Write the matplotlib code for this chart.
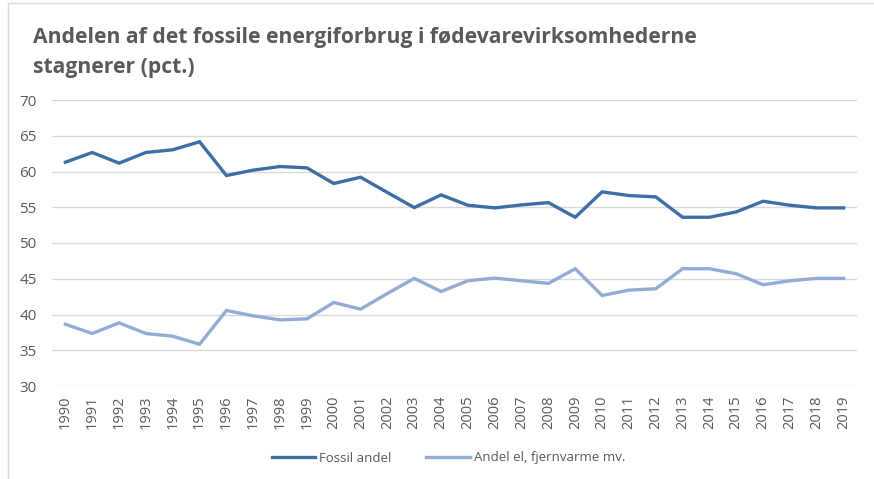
import matplotlib
matplotlib.use("Agg")
import matplotlib.pyplot as plt
from matplotlib.patches import Rectangle

years = list(range(1990, 2020))
fossil = [61.3, 62.66, 61.17, 62.66, 63.04, 64.16, 59.44, 60.19, 60.7, 60.51,
          58.32, 59.2, 57.06, 54.95, 56.73, 55.28, 54.91, 55.33, 55.65, 53.6,
          57.15, 56.64, 56.45, 53.6, 53.6, 54.35, 55.84, 55.28, 54.91, 54.91]
el = [38.64, 37.34, 38.83, 37.34, 36.96, 35.84, 40.56, 39.81, 39.25, 39.39,
      41.68, 40.75, 42.94, 45.05, 43.22, 44.72, 45.09, 44.72, 44.35, 46.4,
      42.66, 43.41, 43.6, 46.4, 46.4, 45.7, 44.16, 44.72, 45.05, 45.05]
yticks = [30, 35, 40, 45, 50, 55, 60, 65, 70]
title = "Andelen af det fossile energiforbrug i fødevarevirksomhederne\nstagnerer (pct.)"
labels = ["Fossil andel", "Andel el, fjernvarme mv."]

W, H = 874, 479
fig = plt.figure(figsize=(W/100, H/100), dpi=100)
plt.rcParams['font.family'] = ['Open Sans', 'DejaVu Sans']

left, right, top, bottom = 52, 857, 100, 386
ax = fig.add_axes([left/W, 1-bottom/H, (right-left)/W, (bottom-top)/H])

x = list(range(len(years)))
ax.plot(x, fossil, color="#3d6ea5", lw=2.4, solid_joinstyle='miter', label=labels[0])
ax.plot(x, el, color="#93abd5", lw=2.4, solid_joinstyle='miter', label=labels[1])

ax.set_ylim(30, 70)
ax.set_xlim(-0.5, len(years)-0.5)
ax.set_yticks(yticks)
ax.set_xticks(x)
ax.set_xticklabels([str(y) for y in years], rotation=90)
ax.grid(axis='y', color="#d9d9d9", lw=1)
ax.set_axisbelow(True)
for s in ax.spines.values():
    s.set_visible(False)
ax.tick_params(axis='both', length=0, colors="#595959")
ax.tick_params(axis='y', pad=11, labelsize=11)
ax.tick_params(axis='x', pad=7, labelsize=10.5)

fig.text(33/W, 1-43/H, title.split("\n")[0], ha='left', va='baseline', fontsize=15.2,
         fontweight='bold', color="#595959")
fig.text(33/W, 1-73/H, title.split("\n")[1], ha='left', va='baseline', fontsize=15.2,
         fontweight='bold', color="#595959")

fig.legend(loc='center', bbox_to_anchor=(0.513, 1-458/H), ncol=2, frameon=False,
           fontsize=9.5, labelcolor="#595959", handlelength=3.3, handletextpad=0.3,
           columnspacing=2.6)

fig.patches.append(Rectangle((8/W, -0.1), 1.2, 1-3/H+0.1, transform=fig.transFigure,
                             fill=False, edgecolor="#d9d9d9", lw=1))

fig.savefig("out.png", dpi=100)
